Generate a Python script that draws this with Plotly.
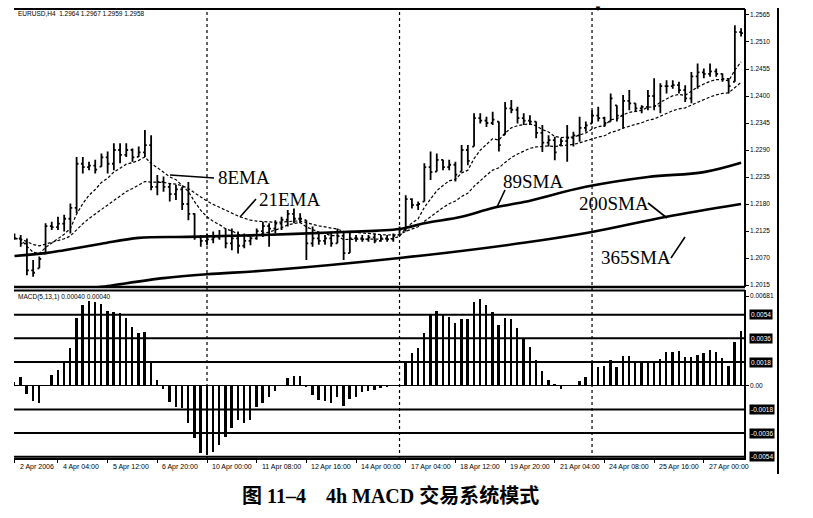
import plotly.graph_objects as go
import pandas as pd

# EURUSD H4 bars (index 0..117)
highs = [1.2120, 1.2117, 1.2110, 1.2066, 1.2073, 1.2141, 1.2144, 1.2154, 1.2158, 1.2181,
         1.2276, 1.2276, 1.2266, 1.2270, 1.2283, 1.2287, 1.2304, 1.2304, 1.2304, 1.2293,
         1.2297, 1.2331, 1.2320, 1.2239, 1.2236, 1.2222, 1.2219, 1.2215, 1.2225, 1.2161,
         1.2117, 1.2120, 1.2124, 1.2127, 1.2130, 1.2130, 1.2124, 1.2120, 1.2117, 1.2130,
         1.2144, 1.2141, 1.2147, 1.2154, 1.2168, 1.2171, 1.2161, 1.2147, 1.2134, 1.2120,
         1.2117, 1.2124, 1.2130, 1.2124, 1.2124, 1.2117, 1.2117, 1.2117, 1.2120, 1.2117,
         1.2117, 1.2120, 1.2134, 1.2198, 1.2192, 1.2185, 1.2263, 1.2287, 1.2283, 1.2270,
         1.2270, 1.2266, 1.2300, 1.2300, 1.2365, 1.2365, 1.2358, 1.2368, 1.2348, 1.2388,
         1.2392, 1.2378, 1.2365, 1.2361, 1.2348, 1.2341, 1.2320, 1.2317, 1.2314, 1.2341,
         1.2327, 1.2358, 1.2348, 1.2371, 1.2378, 1.2358, 1.2405, 1.2381, 1.2402, 1.2412,
         1.2385, 1.2381, 1.2412, 1.2436, 1.2426, 1.2432, 1.2432, 1.2429, 1.2422, 1.2449,
         1.2466, 1.2456, 1.2466, 1.2456, 1.2446, 1.2436, 1.2544, 1.2538]
lows = [1.2107, 1.2093, 1.2035, 1.2032, 1.2049, 1.2079, 1.2127, 1.2127, 1.2124, 1.2120,
        1.2161, 1.2242, 1.2249, 1.2242, 1.2256, 1.2242, 1.2249, 1.2263, 1.2276, 1.2266,
        1.2276, 1.2276, 1.2208, 1.2198, 1.2205, 1.2185, 1.2188, 1.2168, 1.2147, 1.2107,
        1.2093, 1.2096, 1.2100, 1.2107, 1.2090, 1.2086, 1.2079, 1.2090, 1.2096, 1.2107,
        1.2113, 1.2093, 1.2120, 1.2127, 1.2134, 1.2141, 1.2141, 1.2066, 1.2093, 1.2097,
        1.2097, 1.2093, 1.2100, 1.2066, 1.2080, 1.2103, 1.2103, 1.2103, 1.2100, 1.2103,
        1.2103, 1.2103, 1.2117, 1.2124, 1.2171, 1.2168, 1.2185, 1.2229, 1.2246, 1.2249,
        1.2249, 1.2226, 1.2246, 1.2259, 1.2297, 1.2344, 1.2337, 1.2341, 1.2287, 1.2321,
        1.2365, 1.2344, 1.2341, 1.2341, 1.2314, 1.2286, 1.2297, 1.2269, 1.2300, 1.2266,
        1.2297, 1.2307, 1.2327, 1.2344, 1.2348, 1.2337, 1.2348, 1.2348, 1.2334, 1.2371,
        1.2368, 1.2365, 1.2371, 1.2371, 1.2365, 1.2405, 1.2415, 1.2405, 1.2388, 1.2385,
        1.2415, 1.2436, 1.2439, 1.2439, 1.2429, 1.2405, 1.2429, 1.2521]
opens = [1.2115, 1.2110, 1.2100, 1.2045, 1.2049, 1.2079, 1.2135, 1.2133, 1.2140, 1.2150,
         1.2172, 1.2262, 1.2255, 1.2258, 1.2256, 1.2275, 1.2262, 1.2290, 1.2280, 1.2290,
         1.2276, 1.2285, 1.2300, 1.2215, 1.2225, 1.2215, 1.2200, 1.2210, 1.2180, 1.2160,
         1.2112, 1.2105, 1.2108, 1.2112, 1.2115, 1.2100, 1.2110, 1.2095, 1.2105, 1.2110,
         1.2125, 1.2135, 1.2130, 1.2140, 1.2148, 1.2160, 1.2150, 1.2147, 1.2100, 1.2110,
         1.2105, 1.2110, 1.2100, 1.2115, 1.2080, 1.2110, 1.2110, 1.2108, 1.2112, 1.2105,
         1.2110, 1.2108, 1.2117, 1.2128, 1.2190, 1.2178, 1.2185, 1.2255, 1.2246, 1.2270,
         1.2255, 1.2260, 1.2246, 1.2290, 1.2297, 1.2355, 1.2350, 1.2345, 1.2348, 1.2321,
         1.2375, 1.2372, 1.2355, 1.2350, 1.2348, 1.2325, 1.2305, 1.2310, 1.2300, 1.2308,
         1.2315, 1.2320, 1.2335, 1.2344, 1.2360, 1.2355, 1.2348, 1.2381, 1.2360, 1.2390,
         1.2385, 1.2375, 1.2378, 1.2400, 1.2380, 1.2420, 1.2420, 1.2422, 1.2412, 1.2395,
         1.2440, 1.2448, 1.2445, 1.2450, 1.2445, 1.2435, 1.2429, 1.2530]
closes = [1.2110, 1.2100, 1.2045, 1.2040, 1.2068, 1.2135, 1.2133, 1.2140, 1.2150, 1.2172,
          1.2262, 1.2255, 1.2258, 1.2250, 1.2275, 1.2262, 1.2290, 1.2280, 1.2290, 1.2275,
          1.2285, 1.2300, 1.2215, 1.2225, 1.2215, 1.2200, 1.2210, 1.2180, 1.2160, 1.2112,
          1.2105, 1.2108, 1.2112, 1.2115, 1.2100, 1.2110, 1.2095, 1.2105, 1.2110, 1.2125,
          1.2135, 1.2130, 1.2140, 1.2148, 1.2160, 1.2150, 1.2150, 1.2100, 1.2110, 1.2105,
          1.2110, 1.2100, 1.2115, 1.2080, 1.2110, 1.2110, 1.2108, 1.2112, 1.2105, 1.2110,
          1.2108, 1.2115, 1.2128, 1.2190, 1.2178, 1.2180, 1.2255, 1.2245, 1.2270, 1.2255,
          1.2260, 1.2240, 1.2290, 1.2268, 1.2355, 1.2350, 1.2345, 1.2352, 1.2300, 1.2375,
          1.2372, 1.2355, 1.2350, 1.2348, 1.2325, 1.2305, 1.2310, 1.2285, 1.2308, 1.2315,
          1.2320, 1.2335, 1.2340, 1.2360, 1.2355, 1.2345, 1.2395, 1.2360, 1.2390, 1.2385,
          1.2375, 1.2378, 1.2400, 1.2380, 1.2420, 1.2420, 1.2422, 1.2412, 1.2395, 1.2440,
          1.2448, 1.2445, 1.2450, 1.2445, 1.2435, 1.2420, 1.2530, 1.2528]

# MACD(5,13,1) histogram
macd = [0.00030, 0.00063, -0.00063, -0.00117, -0.00134, 0.00005, 0.00081, 0.00119, 0.00182, 0.00284,
        0.00517, 0.00613, 0.00646, 0.00638, 0.00621, 0.00570, 0.00562, 0.00550, 0.00512, 0.00448,
        0.00398, 0.00405, 0.00170, 0.00043, -0.00025, -0.00122, -0.00160, -0.00172, -0.00286, -0.00400,
        -0.00514, -0.00527, -0.00502, -0.00451, -0.00388, -0.00324, -0.00261, -0.00286, -0.00261, -0.00160,
        -0.00130, -0.00089, -0.00038, 0.00005, 0.00058, 0.00071, 0.00071, -0.00005, -0.00068, -0.00109,
        -0.00114, -0.00134, -0.00089, -0.00152, -0.00101, -0.00084, -0.00051, -0.00038, -0.00033, -0.00018,
        -0.00008, 0.00002, 0.00005, 0.00177, 0.00248, 0.00286, 0.00400, 0.00545, 0.00570, 0.00545,
        0.00524, 0.00476, 0.00507, 0.00507, 0.00633, 0.00659, 0.00616, 0.00557, 0.00464, 0.00514,
        0.00507, 0.00436, 0.00360, 0.00291, 0.00195, 0.00114, 0.00046, 0.00013, -0.00025, 0.00003,
        0.00003, 0.00038, 0.00068, 0.00177, 0.00139, 0.00152, 0.00195, 0.00139, 0.00228, 0.00223,
        0.00182, 0.00177, 0.00177, 0.00182, 0.00203, 0.00253, 0.00258, 0.00261, 0.00220, 0.00220,
        0.00233, 0.00248, 0.00271, 0.00258, 0.00208, 0.00147, 0.00329, 0.00418]

# moving averages read at a few bars
sma89_idx = [0, 5, 8, 14, 20, 28, 40, 53, 62, 66, 72, 77, 82, 92, 102, 111, 117]
sma89 = [1.2074, 1.2080, 1.2086, 1.2099, 1.2111, 1.2113, 1.2117, 1.2123, 1.2129, 1.2141,
         1.2154, 1.2172, 1.2184, 1.2215, 1.2235, 1.2245, 1.2264]
sma200_idx = [0, 12, 15, 24, 31, 41, 62, 82, 93, 105, 117]
sma200 = [1.1995, 1.2008, 1.2013, 1.2029, 1.2037, 1.2045, 1.2070, 1.2101, 1.2123, 1.2154, 1.2180]

time_labels = ["2 Apr 2006", "4 Apr 04:00", "5 Apr 12:00", "6 Apr 20:00", "10 Apr 00:00",
               "11 Apr 08:00", "12 Apr 16:00", "14 Apr 00:00", "17 Apr 04:00", "18 Apr 12:00",
               "19 Apr 20:00", "21 Apr 04:00", "24 Apr 08:00", "25 Apr 16:00", "27 Apr 00:00"]
time_label_idx = [0, 7, 15, 23, 31, 39, 47, 55, 63, 71, 79, 87, 95, 103, 111]
week_starts = [31, 62, 93]

price_ticks = [1.2565, 1.2510, 1.2455, 1.2400, 1.2345, 1.2290, 1.2235, 1.2180, 1.2125, 1.2070, 1.2015]
macd_levels = [0.0054, 0.0036, 0.0018, -0.0018, -0.0036, -0.0054]
macd_level_text = ["0.0054", "0.0036", "0.0018", "-0.0018", "-0.0036", "-0.0054"]

W, H = 813, 518


def px(x):
    return x / W


def py(y):
    return 1 - y / H


idx = list(range(len(closes)))
ema8 = pd.Series(closes).ewm(span=8, adjust=False).mean()
ema21 = pd.Series(closes).ewm(span=21, adjust=False).mean()

fig = go.Figure()
fig.add_trace(go.Ohlc(x=idx, open=opens, high=highs, low=lows, close=closes,
                      increasing_line_color="black", decreasing_line_color="black",
                      line_width=1.8, tickwidth=0.3, hoverinfo="skip",
                      xaxis="x", yaxis="y", showlegend=False))
for ema in (ema8, ema21):
    fig.add_trace(go.Scatter(x=idx, y=ema, mode="lines", xaxis="x", yaxis="y",
                             line=dict(color="black", width=1.2, dash="3px,2px"),
                             showlegend=False, hoverinfo="skip"))
fig.add_trace(go.Scatter(x=sma89_idx, y=sma89, mode="lines", line_shape="spline",
                         line=dict(color="black", width=2.6), xaxis="x", yaxis="y",
                         showlegend=False, hoverinfo="skip"))
fig.add_trace(go.Scatter(x=sma200_idx, y=sma200, mode="lines", line_shape="spline",
                         line=dict(color="black", width=2.6), xaxis="x", yaxis="y",
                         showlegend=False, hoverinfo="skip"))
fig.add_trace(go.Bar(x=idx, y=macd, width=0.3, marker_color="black", marker_line_width=0,
                     xaxis="x2", yaxis="y2", showlegend=False, hoverinfo="skip"))

xr = [-0.08, 117.47]
xdom = [px(14), px(744)]
tickfont = dict(family="Liberation Sans, Arial", size=6.5, color="black")

fig.update_layout(
    width=W, height=H, margin=dict(l=0, r=0, t=0, b=0),
    paper_bgcolor="white", plot_bgcolor="white",
    bargap=0,
    xaxis=dict(domain=xdom, range=xr, anchor="y", showticklabels=False, showgrid=False,
               zeroline=False, showline=False, rangeslider=dict(visible=False)),
    xaxis2=dict(domain=xdom, range=xr, anchor="y2", showticklabels=False, showgrid=False,
                zeroline=False, showline=True, linecolor="black", linewidth=1.5,
                ticks="outside", ticklen=3, tickcolor="black", tickvals=time_label_idx),
    yaxis=dict(domain=[py(287), py(9)], range=[1.20110, 1.25772], side="right", anchor="x",
               tickvals=price_ticks, ticktext=["%.4f" % v for v in price_ticks],
               ticks="outside", ticklen=3, tickcolor="black", showgrid=False, zeroline=False,
               showline=True, linecolor="black", linewidth=1.5, tickfont=tickfont),
    yaxis2=dict(domain=[py(458), py(290)], range=[-0.005495, 0.007273], side="right", anchor="x2",
                tickvals=[0.00681, 0.0], ticktext=["0.00681", "0.00"],
                ticks="outside", ticklen=3, tickcolor="black", showgrid=False,
                zeroline=True, zerolinecolor="black", zerolinewidth=1,
                showline=True, linecolor="black", linewidth=1.5, tickfont=tickfont),
)

shapes = []
# panel borders
shapes.append(dict(type="line", xref="paper", yref="paper", x0=px(14), x1=px(745), y0=py(9), y1=py(9),
                   line=dict(color="black", width=2)))
shapes.append(dict(type="line", xref="paper", yref="paper", x0=px(14), x1=px(745), y0=py(287), y1=py(287),
                   line=dict(color="black", width=2.5)))
shapes.append(dict(type="line", xref="paper", yref="paper", x0=px(14), x1=px(745), y0=py(290.5), y1=py(290.5),
                   line=dict(color="black", width=2)))
shapes.append(dict(type="line", xref="paper", yref="paper", x0=px(778), x1=px(778), y0=py(8), y1=py(474),
                   line=dict(color="black", width=2)))
# MACD level lines
for lv in macd_levels:
    shapes.append(dict(type="line", xref="paper", yref="y2", x0=px(14), x1=px(746), y0=lv, y1=lv,
                       line=dict(color="black", width=2)))
# week separators
for w in week_starts:
    shapes.append(dict(type="line", xref="x", yref="paper", x0=w, x1=w, y0=py(459), y1=py(9),
                       line=dict(color="black", width=1.2, dash="dot")))
# pointer lines for the labels
pointers = [((170, 175), (214, 178)), ((240, 217), (256, 199)), ((497, 207), (505, 190)),
            ((648, 203), (667, 218)), ((671, 258), (685, 237))]
for (x0, y0), (x1, y1) in pointers:
    shapes.append(dict(type="line", xref="paper", yref="paper", x0=px(x0), y0=py(y0), x1=px(x1), y1=py(y1),
                       line=dict(color="black", width=1.6)))
fig.update_layout(shapes=shapes)

ann = []
serif = "Liberation Serif, Times New Roman, serif"
for txt, x, y in [("8EMA", 216, 177), ("21EMA", 257, 199), ("89SMA", 501, 181),
                  ("200SMA", 577, 203), ("365SMA", 599, 257)]:
    ann.append(dict(text=txt, x=px(x), y=py(y), xref="paper", yref="paper", xanchor="left",
                    yanchor="middle", showarrow=False, font=dict(family=serif, size=19, color="black")))
for txt, i in zip(time_labels, time_label_idx):
    ann.append(dict(text=txt, x=i, y=py(467), xref="x2", yref="paper", xanchor="left", yanchor="middle",
                    xshift=3, showarrow=False, font=dict(family="Liberation Sans, Arial", size=7, color="black")))
for txt, lv in zip(macd_level_text, macd_levels):
    ann.append(dict(text=txt, x=px(749), y=lv, xref="paper", yref="y2", xanchor="left", yanchor="middle",
                    showarrow=False, bgcolor="black", borderpad=1,
                    font=dict(family="Liberation Sans, Arial", size=6.5, color="white")))
ann.append(dict(text="EURUSD,H4  1.2964 1.2967 1.2959 1.2958", x=px(16), y=py(14), xref="paper", yref="paper",
                xanchor="left", yanchor="middle", showarrow=False,
                font=dict(family="Liberation Sans, Arial", size=6.5, color="black")))
ann.append(dict(text="MACD(5,13,1) 0.00040 0.00040", x=px(16), y=py(297), xref="paper", yref="paper",
                xanchor="left", yanchor="middle", showarrow=False,
                font=dict(family="Liberation Sans, Arial", size=6.5, color="black")))
ann.append(dict(text="▼", x=px(598), y=py(8), xref="paper", yref="paper", xanchor="center", yanchor="middle",
                showarrow=False, font=dict(size=8, color="black")))
ann.append(dict(text="<b>图 11–4　4h MACD 交易系统模式</b>", x=px(390), y=py(495), xref="paper", yref="paper",
                xanchor="center", yanchor="middle", showarrow=False,
                font=dict(family="Liberation Serif, Noto Sans CJK SC", size=20, color="black")))
fig.update_layout(annotations=ann)

# drop the page margin so the figure sits at the window's top-left corner
fig.write_html("out.html", config={"displayModeBar": False},
               post_script="document.body.style.margin='0';document.body.style.overflow='hidden';")
